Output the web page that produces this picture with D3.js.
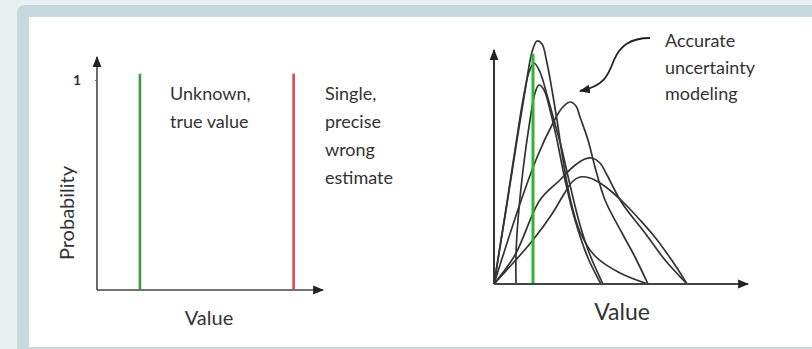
<!DOCTYPE html>
<html>
<head>
<meta charset="utf-8">
<script src="https://cdn.jsdelivr.net/npm/d3@7"></script>
<style>
  html, body { margin: 0; padding: 0; background: #e9f0f2; }
  svg { display: block; }
  .lbl { font-family: Lato, "Open Sans", sans-serif; fill: #333; }
</style>
</head>
<body>
<div id="chart"></div>
<script>
// left panel: two spikes (probability 1 at a single value)
var spikeNames = ['true', 'estimate'];
var spikeValues = [19, 87];
var spikeHeights = [1.03, 1.03];
var probTicks = [1];
var trueLabel = ['Unknown,', 'true value'];
var estimateLabel = ['Single,', 'precise', 'wrong', 'estimate'];

// right panel: distributions, [value, density]
var curveA = [[0,0],[12,74],[23,144],[32,199],[38,232],[43,243],[48,240],[53,221],[58,194],[63,164],[69,124],[76,86],[86,52],[101,28],[126,11],[154,0]];
var curveB = [[0,0],[11,69],[21,134],[29,184],[35,212],[40,221],[46,212],[53,189],[60,164],[68,134],[76,99],[86,59],[96,29],[109,0]];
var curveC = [[22,0],[22,29],[24,64],[29,114],[36,164],[41,191],[45,199],[50,194],[56,174],[63,144],[71,104],[81,64],[94,26],[107,0]];
var curveD = [[0,0],[14,44],[29,89],[44,129],[58,159],[68,176],[76,182],[82,178],[86,167],[94,144],[101,117],[111,84],[128,51],[141,27],[154,0]];
var curveE = [[0,0],[21,29],[46,84],[66,104],[80,118],[91,125],[98,126],[106,121],[113,109],[128,81],[151,51],[171,24],[193,0]];
var curveF = [[0,0],[20,22],[39,44],[58,70],[70,90],[78,102],[86,107],[96,106],[106,101],[118,92],[131,80],[146,64],[160,48],[172,32],[183,16],[193,0]];
var curves = [curveA, curveB, curveC, curveD, curveE, curveF];
var trueValue = [39, 230];
var noteLabel = ['Accurate', 'uncertainty', 'modeling'];

(function() {
    'use strict';

    var width = 812, height = 349;

    var svg = d3.select('#chart')
    .append('svg')
      .attr('width', width)
      .attr('height', height);

    // arrow head
    svg.append('defs')
    .append('marker')
      .attr('id', 'arrow')
      .attr('viewBox', '0 0 10 10')
      .attr('refX', 9)
      .attr('refY', 5)
      .attr('markerUnits', 'userSpaceOnUse')
      .attr('markerWidth', 11)
      .attr('markerHeight', 11)
      .attr('orient', 'auto')
    .append('path')
      .attr('d', 'M0,1 L10,5 L0,9 Z')
      .attr('fill', '#222');

    //  frame
    svg.append('rect')
      .attr('x', 17).attr('y', 5)
      .attr('width', 783 + 20).attr('height', 344 + 10)
      .attr('rx', 7)
      .attr('fill', '#c7d9de');
    svg.append('rect')
      .attr('x', 29).attr('y', 17)
      .attr('width', width - 29).attr('height', 330)
      .attr('fill', '#ffffff');

    // ---------- left panel ----------
    var xL = d3.scaleLinear().domain([0, 100]).range([97, 323]);
    var yL = d3.scaleLinear().domain([0, 1]).range([290, 80]);

    var left = svg.append('g').attr('class', 'left');

    left.append('line')
      .attr('x1', xL(0)).attr('y1', yL(0))
      .attr('x2', xL(0)).attr('y2', 57)
      .attr('stroke', '#444').attr('stroke-width', 1.6)
      .attr('marker-end', 'url(#arrow)');
    left.append('line')
      .attr('x1', xL(0)).attr('y1', yL(0))
      .attr('x2', xL(100)).attr('y2', yL(0))
      .attr('stroke', '#444').attr('stroke-width', 1.6)
      .attr('marker-end', 'url(#arrow)');

    var yAxis = d3.axisLeft(yL)
      .tickValues(probTicks)
      .tickSize(2)
      .tickPadding(14)
      .tickFormat(d3.format('d'));

    left.append('g')
      .attr('transform', 'translate(' + xL(0) + ',0)')
    .call(yAxis)
    .call(function(g) { g.select('.domain').remove(); })
    .call(function(g) {
        g.selectAll('line').attr('stroke', '#666');
        g.selectAll('text')
          .attr('class', 'lbl')
          .style('font-size', '14px')
          .style('font-weight', 'bold')
          .attr('fill', '#333');
    });

    left.selectAll('.spike')
    .data(spikeValues)
    .enter().append('line')
      .attr('class', 'spike')
      .attr('x1', function(d) { return xL(d); })
      .attr('x2', function(d) { return xL(d); })
      .attr('y1', yL(0))
      .attr('y2', function(d, i) { return yL(spikeHeights[i]); })
      .attr('stroke', function(d, i) { return spikeNames[i] === 'true' ? '#3c9a40' : '#e0454b'; })
      .attr('stroke-width', 2.6);

    left.append('text')
      .attr('class', 'lbl')
      .attr('x', 170).attr('y', 100)
      .style('font-size', '18px')
    .selectAll('tspan')
    .data(trueLabel)
    .enter().append('tspan')
      .attr('x', 170)
      .attr('dy', function(d, i) { return i ? 28 : 0; })
      .text(function(d) { return d; });

    left.append('text')
      .attr('class', 'lbl')
      .attr('x', 325).attr('y', 100)
      .style('font-size', '18px')
    .selectAll('tspan')
    .data(estimateLabel)
    .enter().append('tspan')
      .attr('x', 325)
      .attr('dy', function(d, i) { return i ? 28 : 0; })
      .text(function(d) { return d; });

    left.append('text')
      .attr('class', 'lbl')
      .attr('transform', 'translate(74,213) rotate(-90)')
      .attr('text-anchor', 'middle')
      .style('font-size', '20px')
      .text('Probability');

    left.append('text')
      .attr('class', 'lbl')
      .attr('x', 209).attr('y', 325)
      .attr('text-anchor', 'middle')
      .style('font-size', '20px')
      .text('Value');

    // ---------- right panel ----------
    var xR = d3.scaleLinear().domain([0, 254]).range([494, 748]);
    var yR = d3.scaleLinear().domain([0, 234]).range([284, 50]);

    var right = svg.append('g').attr('class', 'right');

    var lineGen = d3.line()
      .curve(d3.curveCatmullRom.alpha(0.5))
      .x(function(d) { return xR(d[0]); })
      .y(function(d) { return yR(d[1]); });

    right.selectAll('.dist')
    .data(curves)
    .enter().append('path')
      .attr('class', 'dist')
      .attr('d', lineGen)
      .attr('fill', 'none')
      .attr('stroke', '#333')
      .attr('stroke-width', 1.7)
      .attr('stroke-linejoin', 'round');

    right.append('line')
      .attr('x1', xR(trueValue[0])).attr('x2', xR(trueValue[0]))
      .attr('y1', yR(0)).attr('y2', yR(trueValue[1]))
      .attr('stroke', '#2fb52f').attr('stroke-width', 3);

    right.append('line')
      .attr('x1', xR(0)).attr('y1', yR(0))
      .attr('x2', xR(0)).attr('y2', yR(234))
      .attr('stroke', '#333').attr('stroke-width', 2)
      .attr('marker-end', 'url(#arrow)');
    right.append('line')
      .attr('x1', xR(0)).attr('y1', yR(0))
      .attr('x2', xR(254)).attr('y2', yR(0))
      .attr('stroke', '#444').attr('stroke-width', 1.8)
      .attr('marker-end', 'url(#arrow)');

    right.append('text')
      .attr('class', 'lbl')
      .attr('x', 622).attr('y', 320)
      .attr('text-anchor', 'middle')
      .style('font-size', '23px')
      .text('Value');

    right.append('text')
      .attr('class', 'lbl')
      .attr('x', 665).attr('y', 47)
      .style('font-size', '18px')
    .selectAll('tspan')
    .data(noteLabel)
    .enter().append('tspan')
      .attr('x', 665)
      .attr('dy', function(d, i) { return i ? 26.5 : 0; })
      .text(function(d) { return d; });

    // curly pointer to the curves
    right.append('path')
      .attr('d', 'M650,38 C630,38 620,46 614,60 C608,76 604,86 580,91')
      .attr('fill', 'none')
      .attr('stroke', '#222')
      .attr('stroke-width', 1.8)
      .attr('marker-end', 'url(#arrow)');

})();
</script>
</body>
</html>
